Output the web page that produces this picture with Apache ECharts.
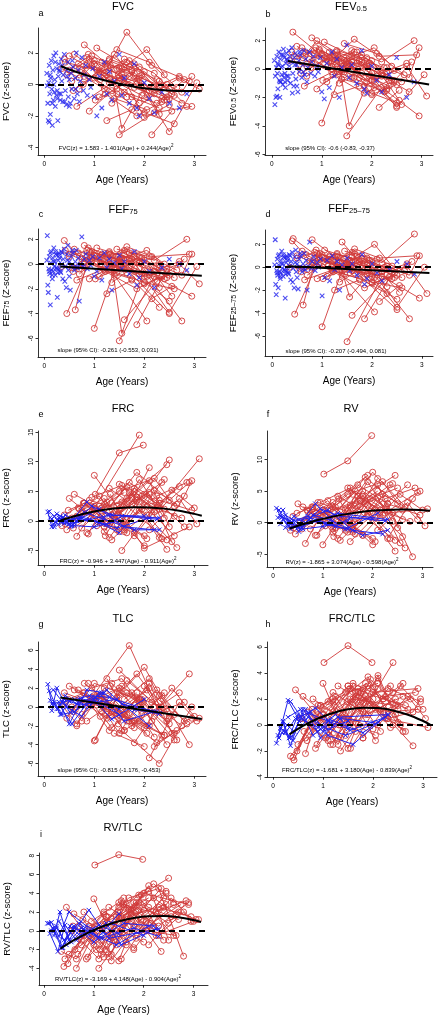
<!DOCTYPE html>
<html><head><meta charset="utf-8">
<script src="https://cdn.jsdelivr.net/npm/echarts@6/dist/echarts.min.js"></script>
<style>html,body{margin:0;padding:0;background:#fff}#c{width:439px;height:1017px}</style>
</head><body><div id="c"></div>
<script>
// ---------- tick labels ----------
const xTicks = [0, 1, 2, 3];

// ---------- spirometry (panels a-d): visit ages of each red subject ----------
const spiroAges = [
[0.42,1.05,1.55,2.05],[0.45,0.95,1.5],[0.5,1.2,1.75,2.3],[0.55,1.0,1.45,2.5],[0.6,1.3,1.9],
[0.62,0.9,1.6,2.2,2.7],[0.7,1.1,1.65],[0.75,1.45,2.0,2.6],[0.8,1.25,1.8],[0.85,1.6,2.35],
[0.9,1.35,1.95,2.45],[0.95,1.5,2.1],[1.0,1.4,1.85,2.75],[1.05,1.7,2.25],[1.1,1.55,2.0,2.5],
[1.15,1.8,2.4],[1.2,1.65,2.15,2.9],[1.25,1.75],[1.3,2.0,2.55],[1.35,1.9,2.3],
[1.4,1.95],[1.45,2.1,2.65],[1.5,2.2,2.95],[1.55,2.05,2.4],[1.6,2.25,2.8],
[1.7,2.3],[1.75,2.5,3.05],[1.85,2.45],[1.9,2.6],[2.0,2.7,3.1],
[0.5,0.85,1.3],[0.58,1.15,1.7],[0.68,1.4,2.05],[0.4,0.8,1.2,1.6],[0.78,1.3,1.75,2.2],
[0.88,1.25,1.65],[1.02,1.45,1.9],[1.12,1.6,2.2,2.85],[1.22,1.85,2.35],[1.32,1.55,2.0],
[1.48,1.8,2.45],[0.35,0.7,1.0],[2.15,2.55],[2.3,2.75,2.95],[0.65,1.5,2.5]];

const fvcRed = [
[1.4,0.9,0.3,-0.5],[0.6,1.2,0.2],[1.8,0.5,-0.8,-1.5],[0.2,1.5,1.0,-0.3],[1.9,0.3,-1.2],
[1.0,1.6,0.4,-0.2,0.5],[-0.3,0.8,1.4],[0.9,-0.6,-1.8,-2.5],[2.5,1.3,0.7],[1.2,0.1,-0.9],
[-1.7,-0.4,0.6,-0.8],[1.8,1.0,-0.4],[0.4,1.9,0.2,-1.2],[2.3,1.1,0.3],[-0.8,0.6,-2.1,-1.3],
[1.4,-0.2,-1.0],[0.7,3.3,1.2,0.2],[-2.3,-1.6],[1.6,0.8,-0.6],[-1.2,0.4,-1.9],
[0.2,-0.7],[2.2,1.4,-0.2],[-3.2,-1.8,-1.4],[1.0,2.2,0.6],[-0.5,-1.2,0.3],
[1.5,-0.1],[0.8,-3.0,0.1],[-1.5,0.0],[0.5,-0.7],[-0.9,0.4,-0.3],
[0.9,1.7,0.1],[-0.4,1.0,0.5],[1.3,-0.9,-1.6],[1.6,0.5,-0.3,1.1],[0.0,1.5,0.9,-0.6],
[1.9,0.6,-0.8],[-1.0,-0.3,1.1],[0.3,1.6,0.7,-1.4],[-0.6,-2.0,-1.1],[1.2,-2.8,-0.2],
[0.6,1.3,-1.0],[1.0,0.4,1.3],[-3.2,-1.7],[0.2,-0.5,0.5],[-1.4,0.4,-0.9]];

const fev05Red = [
[2.6,0.8,0.2,-0.8],[0.9,1.4,0.3],[1.6,0.2,-0.6,-1.4],[0.3,1.1,0.6,-2.6],[1.5,0.4,-0.9],
[0.8,2.0,0.5,-0.3,0.4],[-0.5,0.7,1.2],[0.7,-0.4,-1.7,-2.5],[2.2,1.0,0.5],[1.0,0.0,-1.2],
[-1.4,-0.2,0.4,-0.9],[1.3,0.6,-0.5],[-3.8,-0.2,0.3,-1.6],[1.9,0.8,0.1],[-0.9,0.4,-1.8,-1.1],
[1.2,-0.3,-0.8],[0.6,2.1,0.9,1.0],[-1.8,-1.2],[1.3,0.6,-2.2],[-1.0,0.2,-1.5],
[0.4,-0.5],[1.8,1.1,-0.4],[-4.7,-1.3,-3.3],[0.8,1.5,0.2],[-0.6,-1.6,0.5],
[1.2,-0.2],[0.6,-2.7,-0.4],[-1.2,-0.1],[0.3,-0.9],[-0.8,0.2,-1.9],
[0.7,1.3,0.0],[-0.3,0.8,0.4],[1.1,-0.7,-1.3],[1.2,0.4,-0.2,0.9],[0.1,1.2,0.6,-0.5],
[1.5,0.5,-0.6],[-0.8,-0.2,0.8],[0.2,1.3,0.5,2.0],[-0.4,-1.7,-0.8],[1.0,-4.0,-0.3],
[0.5,1.0,-0.8],[0.6,0.2,1.0],[-2.7,-1.5],[0.1,-0.6,1.5],[-1.2,0.3,-2.4]];

const fef75Red = [
[1.1,0.2,-0.4,-1.0],[-4.0,0.6,-0.2],[0.8,-0.5,-1.2,-3.5],[-0.3,0.9,0.4,-4.0],[1.2,0.0,-0.8],
[-3.7,1.0,0.3,-0.6,0.2],[-0.8,0.5,1.0],[0.4,-0.7,-1.5,-2.0],[1.5,0.7,-0.3],[0.6,-0.4,-1.0],
[-1.2,-0.2,0.5,-0.7],[1.0,0.3,-0.9],[-5.2,-0.5,0.2,-4.6],[1.3,0.5,-0.2],[-1.0,0.4,-1.6,-0.9],
[0.8,-0.6,-1.2],[0.2,1.4,0.6,0.8],[-2.4,-1.3],[0.9,0.3,-2.6],[-1.5,0.1,-1.9],
[0.3,-0.8],[1.2,0.6,-0.5],[-6.2,-1.0,-2.6],[0.5,1.1,0.0],[-4.5,-1.4,0.4],
[0.9,-0.3],[0.4,-3.9,-0.2],[-4.9,-0.4],[0.1,-1.1],[-1.0,0.0,-1.6],
[0.6,1.1,-0.2],[-0.6,0.7,0.2],[0.9,-0.9,-4.6],[1.9,0.2,-0.4,0.7],[-0.2,1.0,0.4,-0.6],
[1.3,0.3,-0.7],[-1.2,-0.4,0.6],[0.0,1.1,0.3,2.0],[-0.6,-2.0,-1.0],[0.8,-5.6,-0.5],
[0.3,0.8,-1.1],[-0.2,-0.4,0.7],[-2.8,-1.8],[-0.1,-0.9,0.8],[-1.3,0.1,-3.0]];

const fef2575Red = [
[2.5,0.5,-0.2,-0.9],[-4.1,0.8,0.0],[1.0,-0.3,-1.0,-2.3],[-0.1,1.1,0.5,-3.7],[1.4,0.2,-0.6],
[-3.3,1.2,0.4,-0.4,0.3],[-0.7,0.6,1.2],[0.5,-0.6,-1.3,-1.8],[2.4,0.9,-0.1],[0.8,-0.3,-0.9],
[-1.0,0.0,0.6,-0.5],[1.2,0.4,-0.7],[-5.2,-0.3,0.4,-4.5],[1.5,0.6,0.0],[-0.8,0.5,-1.4,-0.7],
[1.0,-0.4,-1.0],[0.3,1.6,0.8,1.0],[-2.0,-1.1],[1.1,0.4,-2.2],[-1.3,0.2,-1.7],
[2.2,-0.6],[1.4,0.7,-0.3],[-6.5,-0.8,-2.7],[0.6,2.0,0.1],[-4.2,-1.2,0.5],
[1.0,-0.1],[0.5,-3.5,0.0],[-4.5,-0.2],[0.2,-0.9],[-0.8,0.1,-2.3],
[0.8,1.3,0.0],[-0.4,0.9,0.3],[1.1,-0.7,-3.9],[2.3,0.4,-0.2,0.9],[0.0,1.2,0.5,-0.4],
[1.5,0.4,-0.5],[-1.0,-0.2,0.8],[0.1,1.3,0.4,2.9],[-0.4,-1.8,-0.8],[0.9,-2.6,-0.3],
[0.4,1.0,-0.9],[0.0,-0.2,0.9],[-3.0,-1.6],[0.1,-0.7,1.0],[-1.1,0.2,-2.8]];

// blue crosses (panels a-d)
const spiroBlueAges = [0.05,0.07,0.08,0.09,0.1,0.11,0.12,0.13,0.14,0.15,0.16,0.17,0.18,0.19,0.2,0.21,0.22,0.23,0.24,0.25,
0.26,0.27,0.28,0.29,0.3,0.31,0.32,0.34,0.35,0.37,0.38,0.4,0.42,0.44,0.45,0.47,0.48,0.5,0.52,0.54,
0.55,0.57,0.6,0.62,0.64,0.66,0.68,0.7,0.72,0.75,0.78,0.8,0.83,0.86,0.9,0.93,0.97,1.0,1.05,1.1,
1.15,1.2,1.25,1.3,1.35,1.4,1.5,1.55,1.6,1.7,1.8,1.85,1.9,2.0,2.1,2.2,2.35,2.5,2.7,2.85,
0.06,0.1,0.12,0.16,0.19,0.22,0.26,0.3,0.33,0.36,0.41,0.46,0.5,0.56,0.63];
const fvcBlue = [0.7,-1.2,-2.3,0.1,1.2,-0.6,-1.9,0.4,1.5,-0.3,-2.6,0.9,-1.0,1.8,-0.5,0.3,-1.4,2.0,-0.7,1.0,
-0.9,-2.3,0.5,1.3,-0.6,0.8,-1.0,1.6,0.2,-1.1,0.6,1.9,-0.4,-1.3,0.9,1.4,-0.8,0.3,-1.2,0.7,
-0.3,1.1,-0.9,0.4,2.0,-0.6,0.9,-1.1,0.2,1.7,-0.4,0.6,1.2,-0.7,0.3,-0.2,1.0,-0.8,-2.0,0.5,
-1.5,1.4,-0.6,0.8,-1.0,0.2,1.9,-0.7,0.4,-1.2,1.3,-1.5,-2.0,0.1,-0.9,-1.8,-0.5,-1.2,-1.5,-0.6,
-0.1,-2.4,0.6,-1.2,0.0,1.4,-0.4,0.9,-0.6,1.2,-1.1,0.5,-1.4,1.5,-0.3];
const fev05Blue = [0.6,-0.5,-2.0,0.1,0.9,-0.3,-1.4,0.3,1.2,-0.8,-2.0,0.7,-0.9,1.0,-0.4,0.2,-1.1,1.4,-0.6,0.8,
-0.9,-1.3,0.4,1.1,-0.5,0.6,-0.8,1.3,0.2,-1.0,0.5,1.5,-0.3,-1.2,0.8,1.1,-0.7,0.3,-1.6,0.6,
-0.2,1.0,-0.6,0.3,1.3,-0.4,0.7,-0.9,0.1,1.2,-0.3,0.5,0.9,-0.5,0.2,-0.2,0.8,-1.6,-2.1,0.4,
-1.3,1.2,-0.5,0.7,-2.0,0.1,1.7,-0.6,0.3,-1.0,1.3,-1.4,-1.7,0.2,-0.8,-1.6,-0.4,0.8,-2.0,-0.9,
-2.5,-1.9,0.4,-0.9,0.1,1.0,-0.3,0.7,-0.5,0.9,-1.7,0.3,-1.2,1.2,-0.2];
const fef75Blue = [0.3,-1.7,-2.3,-0.4,0.6,-0.8,-3.3,0.1,1.0,-0.5,-1.2,0.5,-0.6,1.3,-0.2,0.2,-0.9,0.8,-0.3,0.7,
-2.7,-0.7,0.3,0.9,-0.4,0.5,-0.6,1.0,0.0,-1.2,0.4,1.2,-0.2,-1.9,0.8,1.5,-0.5,0.2,-2.1,0.6,
-0.1,0.9,-0.5,0.2,1.1,-0.3,0.5,-3.0,0.0,2.2,-0.2,0.4,0.8,-0.4,0.3,-0.1,0.6,-1.0,-0.6,0.5,
-1.3,0.9,-0.3,0.4,-2.1,0.1,0.7,-0.4,0.2,-0.8,1.0,-1.7,-1.1,0.2,-0.6,-1.9,-0.3,0.4,0.0,-0.5,
2.3,-0.6,0.9,-0.9,0.2,1.0,-0.4,0.7,-0.7,0.9,-1.4,0.3,-1.0,1.1,-0.2];
const fef2575Blue = [0.2,-1.5,-2.4,-0.3,0.7,-0.7,-1.8,0.2,1.1,-0.4,-1.0,0.6,-0.5,1.4,-0.1,0.3,-0.8,0.9,-0.2,0.8,
-2.7,-0.6,0.4,1.0,-0.3,0.6,-0.5,1.1,0.1,-1.1,0.5,1.3,-0.1,-1.8,0.9,1.5,-0.4,0.3,-1.9,0.7,
0.0,1.0,-0.4,0.3,1.2,-0.2,0.6,-2.0,0.1,2.2,-0.1,0.5,0.9,-0.3,0.4,0.0,0.7,-2.5,-0.9,0.6,
-1.2,1.0,-0.2,0.5,-2.0,0.2,0.8,-0.3,0.3,-0.7,1.1,-1.5,-1.0,0.3,-0.5,-1.2,-0.2,0.5,0.3,-0.6,
2.4,-0.5,1.0,-0.8,0.3,1.1,-0.3,0.8,-0.6,1.0,-1.3,0.4,-0.9,1.2,-0.1];

// ---------- plethysmography (panels e-i) ----------
const plethAges = [
[0.4,0.9,1.5,2.1],[0.45,1.0,1.9],[0.5,1.2,1.8,2.4],[0.55,1.1,1.6,2.7],[0.6,1.35,2.0],
[0.65,0.95,1.7,2.3,2.8],[0.7,1.25,1.85],[0.75,1.5,2.2,2.6],[0.8,1.4,2.05],[0.85,1.65,2.45],
[0.9,1.3,1.95,2.5],[0.95,1.55,2.15],[1.0,1.45,2.0,2.9],[1.05,1.75,2.35],[1.1,1.6,2.1,2.55],
[1.15,1.85,2.5],[1.2,1.7,2.25,3.1],[1.25,1.8],[1.3,2.05,2.65],[1.35,1.95,2.4],
[1.4,2.0],[1.5,2.15,2.75],[1.55,2.3,2.95],[1.6,2.1,2.5],[1.65,2.25,2.85],
[1.75,2.35],[1.8,2.55,3.0],[1.9,2.45],[2.0,2.6],[2.1,2.7,3.05],
[0.48,0.8,1.25],[0.58,1.15,1.75],[0.68,1.45,2.1],[0.42,0.75,1.2,1.65],[0.78,1.35,1.8,2.2],
[0.88,1.2,1.6],[1.02,1.5,1.9],[1.12,1.65,2.3,2.9],[1.22,1.9,2.4],[1.32,1.6,2.05],
[1.48,1.85,2.6],[0.35,0.65,1.0],[2.2,2.65],[2.3,2.8,2.95],[0.62,1.55,2.45],[1.02,1.5,1.98]];

const frcRed = [
[1.0,3.5,2.0,4.8],[-1.5,2.2,14.5],[3.8,-1.0,5.5,2.0],[0.5,4.2,-1.8,5.8],[4.5,1.0,-2.5],
[-2.6,1.5,6.5,3.0,-1.0],[2.0,-0.5,3.5],[-1.2,5.0,7.2,2.5],[3.0,0.5,-3.0],[-2.0,3.8,9.5],
[1.5,-2.8,4.2,10.3],[4.0,6.0,1.0],[7.7,2.5,-4.6,-1.0],[-0.8,2.8,6.5],[2.5,-1.5,4.5,-3.5],
[0.8,8.2,3.5],[-1.8,4.8,1.8,10.5],[3.2,-2.0],[5.5,1.0,-4.5],[-3.2,2.0,7.0],
[1.2,-4.2],[6.2,2.5,0.5],[-5.0,3.5,1.8],[2.8,6.8,-1.0],[0.2,4.2,6.5],
[3.8,-3.0],[-2.5,5.2,2.2],[1.8,-4.8],[4.5,0.8],[-1.5,3.8,-0.5],
[1.8,3.0,0.0],[-1.2,2.2,4.0],[2.2,-1.5,9.0],[-0.5,1.8,3.8,-2.0],[3.0,-0.8,5.0,1.5],
[-2.2,2.8,4.8],[2.0,-1.8,3.2],[0.5,5.8,2.0,6.5],[-2.5,7.0,0.5],[4.5,-0.2,2.5],
[1.0,4.0,-2.5],[-0.8,0.8,2.5],[5.2,2.8],[-2.8,4.2,6.8],[0.5,3.2,-3.2],[4.5,11.5,12.8]];

const rvRed = [
[1.0,3.2,1.8,5.0],[-1.8,2.0,7.5],[3.0,-1.0,5.0,1.5],[0.2,3.5,-1.5,6.0],[2.5,0.8,-2.5],
[-3.3,1.2,6.0,3.0,-5.4],[1.8,-0.8,3.0],[-1.0,4.5,6.5,2.0],[2.2,0.3,-3.0],[-2.0,3.5,7.5],
[1.2,-2.5,3.8,5.5],[3.2,5.5,0.8],[-3.5,2.0,8.0,0.5],[-0.5,2.5,6.0],[2.0,-1.2,4.0,-3.2],
[0.5,7.2,3.0],[-1.5,4.2,1.5,2.2],[2.5,-2.0],[4.2,0.8,-4.0],[-2.8,1.8,6.2],
[1.0,-3.5],[5.5,2.0,0.2],[-3.0,3.0,1.2],[2.2,6.0,-0.8],[0.0,3.8,5.5],
[3.5,-2.5],[-2.0,4.5,2.0],[1.5,-4.5],[4.0,0.5],[-1.2,3.2,-0.5],
[1.5,2.5,-0.3],[-1.0,2.0,3.5],[2.0,-1.2,7.0],[-0.8,1.5,3.2,-1.8],[2.5,-0.5,4.2,1.2],
[-2.0,2.5,4.5],[1.8,-1.5,2.8],[0.3,5.0,1.8,4.8],[-2.2,6.5,0.2],[3.8,-0.2,2.2],
[0.8,3.5,-2.2],[-1.2,0.5,2.0],[4.5,2.5],[-2.5,3.8,5.0],[0.3,2.8,-2.8],[7.7,9.8,13.8]];

const tlcRed = [
[1.5,0.5,-0.8,-2.0],[-1.2,2.5,0.8],[2.2,0.3,-1.5,-3.0],[0.0,1.2,-2.5,1.5],[1.8,-0.5,-2.2],
[-2.0,1.0,6.5,-0.5,0.5],[0.8,-1.2,1.5],[-0.8,2.0,-1.0,-3.5],[2.5,0.0,-2.8],[-1.5,1.5,-0.2],
[0.5,-2.5,0.8,-1.8],[2.0,3.0,-1.5],[-3.6,1.0,4.2,-4.0],[0.2,-2.0,1.2],[1.2,-0.8,2.5,-2.8],
[-0.5,3.5,-1.2],[0.8,-1.5,-3.8,-1.2],[3.0,-2.2],[-1.0,1.8,-3.5],[2.5,-0.8,1.5],
[-2.8,-4.2],[3.9,0.5,-2.0],[-2.5,-6.0,0.0],[0.8,3.0,-1.0],[-1.5,1.8,-1.8],
[1.5,-3.0],[-3.8,2.0,-1.0],[0.8,-4.0],[2.2,-0.8],[-5.4,0.5,-1.5],
[0.8,1.5,-0.8],[-0.5,1.2,-1.5],[1.8,-1.0,2.0],[0.5,-1.5,2.0,-0.8],[1.5,-2.2,0.2,-3.2],
[2.5,0.5,-2.5],[1.0,-2.8,0.5],[-1.0,2.8,0.0,3.5],[0.5,-1.5,-3.0],[2.2,0.0,-2.0],
[-1.8,1.0,-2.8],[0.2,-1.8,1.2],[-4.2,-2.5],[1.2,-1.5,-1.2],[-0.3,2.2,-1.5],[-3.5,1.5,0.5]];

const frcTlcRed = [
[-2.5,1.5,0.5,2.8],[2.7,0.2,3.0],[-1.5,2.5,1.0,4.8],[0.5,-1.2,3.2,1.2],[2.2,0.0,2.0],
[-2.2,1.5,2.8,0.5,-1.6],[1.0,-1.0,2.2],[-0.5,3.0,2.0,3.2],[2.0,0.5,-0.8],[-1.8,2.2,0.8],
[0.8,-1.5,3.5,1.5],[1.5,2.8,-0.5],[3.2,-0.8,2.5,2.8],[-1.0,1.8,3.0],[1.8,0.2,3.8,0.0],
[0.0,3.2,1.2],[-1.5,2.5,0.5,-0.2],[2.2,-1.0],[3.0,1.2,-0.5],[-2.0,1.5,2.5],
[0.8,-0.3],[3.0,1.0,2.0],[-1.8,2.8,1.8],[1.5,3.6,0.2],[0.2,2.2,2.5],
[2.5,-0.2],[-1.0,3.0,1.2],[0.8,2.0],[2.8,-0.5],[0.0,2.2,0.5],
[-2.0,0.5,1.8],[0.5,-1.5,1.5],[-1.2,2.5,3.2],[-2.7,0.2,2.0,-0.5],[1.2,-1.0,2.8,1.0],
[-1.5,1.0,3.0],[0.8,-1.8,2.0],[-0.8,2.5,1.0,1.2],[1.5,3.7,0.0],[0.0,2.0,-1.2],
[1.8,0.8,2.2],[-2.4,-1.0,0.8],[2.0,1.5],[0.5,1.0,2.0],[-0.5,2.0,1.5],[4.8,6.1,4.8]];

const rvTlcRed = [
[-3.8,0.5,1.5,4.2],[2.5,-1.5,3.0],[-2.5,2.0,0.5,3.5],[0.0,-3.0,2.8,1.2],[1.8,-0.5,2.2],
[-4.0,-0.8,3.5,4.5,-2.7],[0.5,-2.0,2.0],[-1.5,2.5,5.0,3.0],[2.0,-1.0,1.0],[-3.0,1.5,2.8],
[-0.5,-2.8,3.8,5.6],[1.0,3.2,0.0],[3.4,-1.5,4.0,2.8],[-2.0,1.0,4.5],[-4.0,-0.5,2.5,1.5],
[-1.0,3.0,0.8],[-2.8,2.2,-0.5,1.2],[1.5,-1.8],[2.5,0.0,-0.5],[-3.2,1.2,2.5],
[0.5,-1.2],[3.0,0.8,2.8],[-3.0,2.5,1.5],[0.8,4.8,-1.0],[-1.2,2.0,3.2],
[2.2,-2.2],[-2.0,3.5,1.0],[0.0,4.0],[3.0,-0.5],[-1.5,2.0,1.2],
[-3.5,-0.5,1.5],[0.5,-2.5,1.8],[-2.5,1.5,3.5],[-3.0,-1.0,1.8,-1.5],[1.2,-2.5,3.0,0.5],
[-2.8,0.5,3.5],[-0.5,-3.2,2.2],[-2.0,2.8,0.5,3.0],[1.0,3.8,-1.0],[-1.2,2.5,0.0],
[2.0,-0.8,2.8],[-2.2,-3.0,0.2],[3.5,1.8],[-0.5,2.0,1.0],[-2.0,1.5,4.2],[7.0,8.1,7.6]];

// blue subjects (panels e-i), connected
const plethBlueAges = [
[0.07,0.15,0.3,0.5,0.85,1.2],[0.1,0.2,0.35,0.6,1.0,1.5],[0.15,0.25,0.45,0.75,1.1,1.6,2.2],
[0.2,0.32,0.5,0.9,1.3,2.3],[0.25,0.4,0.7,1.05,1.45,2.1],[0.3,0.55,0.8,1.15,1.8,2.3],
[0.12,0.28,0.42,0.65,0.95,1.35,2.0],[0.35,0.6,0.9,1.25,1.55,2.25],[0.18,0.38,0.52,0.72,1.1,1.5]];
const frcBlue = [[1.5,-1.0,0.5,-0.5,3.2,0.5],[1.6,0.8,-0.3,-0.8,-1.0,0.0],[0.3,1.2,0.2,0.5,2.0,-1.0,-1.5],
[-1.0,0.8,-0.5,0.2,1.0,0.5],[0.2,-0.4,0.8,-0.2,-1.2,0.5],[0.5,-0.8,1.5,0.4,-1.5,-1.5],
[0.6,-0.6,1.0,0.0,2.5,1.0,0.8],[0.1,-0.3,0.3,-0.6,0.8,0.3],[-0.5,0.6,-1.0,0.4,-0.3,-2.0]];
const rvBlue = [[2.3,1.0,0.5,-0.5,3.0,0.3],[0.8,2.0,-0.2,-1.0,-0.6,0.2],[-0.2,1.2,0.2,0.8,2.0,-1.2,-1.8],
[0.5,-0.5,-0.8,0.3,1.5,0.5],[-0.8,0.3,1.0,-0.2,-1.0,1.5],[0.2,-1.0,1.2,0.4,-2.0,-1.2],
[2.0,-0.3,1.0,0.0,2.2,1.0,0.6],[-1.0,-0.3,0.5,-0.6,0.8,0.3],[0.9,0.0,-1.4,0.4,-0.2,-1.0]];
const tlcBlue = [[2.4,0.3,0.5,-1.8,1.8,1.5],[1.7,0.5,-0.8,-0.5,1.0,-0.2],[-0.4,2.0,0.0,-1.0,1.5,-1.5,-0.5],
[0.3,-0.8,0.6,1.2,1.0,-0.7],[-0.2,0.8,0.2,0.5,0.8,-2.0],[0.2,-1.8,0.0,1.5,-0.3,-0.7],
[0.7,-0.2,1.2,0.3,1.0,-1.3,0.8],[0.5,0.8,0.0,1.8,0.3,-0.5],[1.8,0.4,-0.6,0.9,0.4,-0.8]];
const frcTlcBlue = [[-1.4,-0.3,1.9,0.5,1.3,0.0],[-0.8,0.2,-1.6,1.2,-0.5,0.3],[-0.2,-0.6,0.5,1.0,-0.8,-1.5,0.5],
[0.3,-1.0,0.8,-0.5,0.6,0.8],[-0.5,-1.2,0.6,-0.2,-0.8,0.2],[0.6,1.2,-0.8,0.4,-0.6,0.8],
[-1.0,0.0,-0.5,1.2,-1.0,0.5,0.2],[1.8,0.4,-0.2,0.8,-0.4,0.6],[-0.6,-0.9,0.3,0.9,0.3,-0.3]];
const rvTlcBlue = [[0.8,0.9,-0.6,2.0,0.5,-0.2],[0.8,0.0,-1.8,0.5,-1.2,1.8],[0.0,0.5,-1.5,0.3,-0.8,0.8,0.5],
[-0.5,2.0,-1.0,2.2,-0.8,0.2],[0.3,-1.0,0.8,-0.5,-1.5,0.5],[1.0,-1.2,0.2,-0.8,0.3,-0.6],
[-0.3,-2.2,0.6,-1.0,0.0,0.8,-0.5],[-1.8,0.3,-0.4,0.8,-1.5,0.2],[0.3,-1.8,0.5,-0.5,0.6,-0.3]];

// ---------- fitted curves ----------
const fitAgesQuad = [0.33,0.6,0.9,1.2,1.5,1.8,2.1,2.4,2.7,3.0,3.15];
const fvcFit    = [1.147,0.830,0.520,0.253,0.030,-0.148,-0.283,-0.374,-0.421,-0.424,-0.409];
const frcFit    = [0.092,0.794,1.418,1.878,2.175,2.307,2.275,2.080,1.720,1.196,0.873];
const rvFit     = [-0.916,-0.236,0.418,0.963,1.400,1.730,1.953,2.069,2.076,1.975,1.884];
const frcTlcFit = [-0.723,-0.075,0.501,0.927,1.201,1.325,1.297,1.118,0.789,0.308,0.011];
const rvTlcFit  = [-1.898,-1.005,-0.168,0.507,1.019,1.368,1.555,1.579,1.441,1.139,0.927];
const fitAgesLin = [0.32,3.15];
const fev05Fit   = [0.57,-1.08];
const fef75Fit   = [-0.20,-0.94];
const fef2575Fit = [0.08,-0.50];
const tlcFit     = [0.99,-1.29];

// ---------- layout ----------
const FONT = '"Liberation Sans", Arial, Helvetica, sans-serif';
const RED = '#d03a3a', BLUE = '#2222ee';
const CROSS = 'path://M0,0L10,10M10,0L0,10';

const panels = [
 {letter:'a', title:'FVC', yname:'FVC (z-score)', rect:[38,28,168,127], x:[-0.126,3.234], y:[-4.48,3.57], yt:[-4,-2,0,2],
  ages:spiroAges, red:fvcRed, bAges:spiroBlueAges, blue:fvcBlue, bLines:false, fx:fitAgesQuad, fy:fvcFit, smooth:true,
  eq:'FVC(z) = 1.583 - 1.401(Age) + 0.244(Age){sup|2}', eqPos:[116,148], tPos:[123,7], lPos:[41,14]},
 {letter:'b', title:'FEV{sub|0.5}', yname:'FEV{sub|0.5} (Z-score)', rect:[265,28,168,127], x:[-0.138,3.228], y:[-6.05,2.89], yt:[-6,-4,-2,0,2],
  ages:spiroAges, red:fev05Red, bAges:spiroBlueAges, blue:fev05Blue, bLines:false, fx:fitAgesLin, fy:fev05Fit, smooth:false,
  eq:'slope (95% CI): -0.6 (-0.83, -0.37)', eqPos:[330,148], tPos:[351,7], lPos:[268,15]},
 {letter:'c', title:'FEF{sub|75}', yname:'FEF{sub|75} (Z-score)', rect:[38,229,168,128], x:[-0.126,3.234], y:[-7.51,2.83], yt:[-6,-4,-2,0,2],
  ages:spiroAges, red:fef75Red, bAges:spiroBlueAges, blue:fef75Blue, bLines:false, fx:fitAgesLin, fy:fef75Fit, smooth:false,
  eq:'slope (95% CI): -0.261 (-0.553, 0.031)', eqPos:[108,350], tPos:[123,210], lPos:[41,215]},
 {letter:'d', title:'FEF{sub|25\u201375}', yname:'FEF{sub|25\u201375} (Z-score)', rect:[265,230,168,126], x:[-0.145,3.222], y:[-7.75,3.25], yt:[-6,-4,-2,0,2],
  ages:spiroAges, red:fef2575Red, bAges:spiroBlueAges, blue:fef2575Blue, bLines:false, fx:fitAgesLin, fy:fef2575Fit, smooth:false,
  eq:'slope (95% CI): -0.207 (-0.494, 0.081)', eqPos:[336,351], tPos:[349,209], lPos:[268,215]},
 {letter:'e', title:'FRC', yname:'FRC (z-score)', rect:[38,431,170,134], x:[-0.126,3.274], y:[-7.44,15.19], yt:[-5,0,5,10,15],
  ages:plethAges, red:frcRed, bAges:plethBlueAges, blue:frcBlue, bLines:true, fx:fitAgesQuad, fy:frcFit, smooth:true,
  eq:'FRC(z) = -0.946 + 3.447(Age) - 0.911(Age){sup|2}', eqPos:[118,561], tPos:[123,409], lPos:[41,415]},
 {letter:'f', title:'RV', yname:'RV (z-score)', rect:[267,431,166,136], x:[-0.12,3.21], y:[-7.02,14.53], yt:[-5,0,5,10],
  ages:plethAges, red:rvRed, bAges:plethBlueAges, blue:rvBlue, bLines:true, fx:fitAgesQuad, fy:rvFit, smooth:true,
  eq:'RV(z) = -1.865 + 3.074(Age) - 0.598(Age){sup|2}', eqPos:[342,562], tPos:[351,409], lPos:[268,415]},
 {letter:'g', title:'TLC', yname:'TLC (z-score)', rect:[38,642,168,134], x:[-0.126,3.234], y:[-7.32,6.88], yt:[-6,-4,-2,0,2,4,6],
  ages:plethAges, red:tlcRed, bAges:plethBlueAges, blue:tlcBlue, bLines:true, fx:fitAgesLin, fy:tlcFit, smooth:false,
  eq:'slope (95% CI): -0.815 (-1.176, -0.453)', eqPos:[109,770], tPos:[123,619], lPos:[41,625]},
 {letter:'h', title:'FRC/TLC', yname:'FRC/TLC (z-score)', rect:[267,642,170,135], x:[-0.12,3.28], y:[-4,6.38], yt:[-4,-2,0,2,4,6],
  ages:plethAges, red:frcTlcRed, bAges:plethBlueAges, blue:frcTlcBlue, bLines:true, fx:fitAgesQuad, fy:frcTlcFit, smooth:true,
  eq:'FRC/TLC(z) = -1.681 + 3.180(Age) - 0.839(Age){sup|2}', eqPos:[347,770], tPos:[352,619], lPos:[268,625]},
 {letter:'i', title:'RV/TLC', yname:'RV/TLC (z-score)', rect:[39,853,169,132], x:[-0.1,3.29], y:[-5.77,8.28], yt:[-4,-2,0,2,4,6,8],
  ages:plethAges, red:rvTlcRed, bAges:plethBlueAges, blue:rvTlcBlue, bLines:true, fx:fitAgesQuad, fy:rvTlcFit, smooth:true,
  eq:'RV/TLC(z) = -3.169 + 4.148(Age) - 0.904(Age){sup|2}', eqPos:[118,979], tPos:[123,828], lPos:[41,835]}
];

const richName = {
  sub: {fontSize: 7, fontFamily: FONT, color: '#000', verticalAlign: 'bottom', padding: [0,0,0,0]}
};
const grids = [], xAxes = [], yAxes = [], series = [], graphics = [];
panels.forEach((p, i) => {
  grids.push({left: p.rect[0], top: p.rect[1], width: p.rect[2], height: p.rect[3], containLabel: false, outerBoundsMode: 'none'});
  xAxes.push({type: 'value', gridIndex: i, min: p.x[0], max: p.x[1],
    name: 'Age (Years)', nameLocation: 'middle', nameGap: 20,
    nameTextStyle: {fontFamily: FONT, fontSize: 10, color: '#000'},
    axisLine: {show: true, onZero: false, lineStyle: {color: '#000', width: 0.8}},
    axisTick: {show: true, length: 2.7, customValues: xTicks, lineStyle: {color: '#000', width: 0.8}},
    axisLabel: {show: true, customValues: xTicks, fontFamily: FONT, fontSize: 6.5, color: '#000', margin: 6},
    splitLine: {show: false}});
  yAxes.push({type: 'value', gridIndex: i, min: p.y[0], max: p.y[1],
    name: p.yname, nameLocation: 'middle', nameGap: 27, nameRotate: 90,
    nameTextStyle: {fontFamily: FONT, fontSize: 9.5, color: '#000', rich: {sub: {fontSize: 7, fontFamily: FONT, color: '#000', verticalAlign: 'bottom'}}},
    axisLine: {show: true, onZero: false, lineStyle: {color: '#000', width: 0.8}},
    axisTick: {show: true, length: 2.5, customValues: p.yt, lineStyle: {color: '#000', width: 0.8}},
    axisLabel: {show: true, customValues: p.yt, rotate: 90, fontFamily: FONT, fontSize: 6.5, color: '#000', margin: 3},
    splitLine: {show: false}});

  // red subjects
  p.ages.forEach((ag, k) => {
    const z = p.red[k]; if (!z) return;
    const n = Math.min(ag.length, z.length), d = [];
    for (let j = 0; j < n; j++) d.push([ag[j], z[j]]);
    series.push({type: 'line', xAxisIndex: i, yAxisIndex: i, data: d, symbol: 'circle', symbolSize: 6, showSymbol: true,
      lineStyle: {color: RED, width: 0.9}, itemStyle: {color: 'rgba(0,0,0,0)', borderColor: RED, borderWidth: 0.9},
      silent: true, z: 2, animation: false});
  });
  // blue
  if (p.bLines) {
    p.bAges.forEach((ag, k) => {
      const z = p.blue[k]; if (!z) return;
      const n = Math.min(ag.length, z.length), d = [];
      for (let j = 0; j < n; j++) d.push([ag[j], z[j]]);
      series.push({type: 'line', xAxisIndex: i, yAxisIndex: i, data: d, symbol: CROSS, symbolSize: 4.5, showSymbol: true,
        lineStyle: {color: BLUE, width: 1}, itemStyle: {color: 'none', borderColor: BLUE, borderWidth: 1},
        silent: true, z: 3, animation: false});
    });
  } else {
    const n = Math.min(p.bAges.length, p.blue.length), d = [];
    for (let j = 0; j < n; j++) d.push([p.bAges[j], p.blue[j]]);
    series.push({type: 'scatter', xAxisIndex: i, yAxisIndex: i, data: d, symbol: CROSS, symbolSize: 4.5,
      itemStyle: {color: 'none', borderColor: BLUE, borderWidth: 1.1}, silent: true, z: 3, animation: false});
  }
  // fit + zero reference
  const fd = p.fx.map((a, j) => [a, p.fy[j]]);
  series.push({type: 'line', xAxisIndex: i, yAxisIndex: i, data: fd, smooth: p.smooth ? 0.35 : false, symbol: 'none',
    lineStyle: {color: '#000', width: 2}, silent: true, z: 5, animation: false,
    markLine: {silent: true, symbol: 'none', animation: false, label: {show: false},
      lineStyle: {color: '#000', width: 1.8, type: [6, 4]}, data: [{yAxis: 0}]}});

  // texts
  graphics.push({type: 'text', x: p.tPos[0], y: p.tPos[1], z: 10, style: {text: p.title, fontFamily: FONT, fontSize: 11, fill: '#000',
    align: 'center', verticalAlign: 'middle',
    rich: {sub: {fontSize: 7.5, fontFamily: FONT, fill: '#000', color: '#000', verticalAlign: 'bottom'}}}});
  graphics.push({type: 'text', x: p.lPos[0], y: p.lPos[1], z: 10, style: {text: p.letter, fontFamily: FONT, fontSize: 9, fill: '#000',
    align: 'center', verticalAlign: 'middle'}});
  graphics.push({type: 'text', x: p.eqPos[0], y: p.eqPos[1], z: 10, style: {text: p.eq, fontFamily: FONT, fontSize: 6, fill: '#000',
    align: 'center', verticalAlign: 'middle', lineHeight: 10,
    rich: {sup: {fontSize: 4.5, fontFamily: FONT, fill: '#000', color: '#000', verticalAlign: 'top', lineHeight: 5}}}});
});

const chart = echarts.init(document.getElementById('c'), null, {renderer: 'canvas'});
chart.setOption({animation: false, backgroundColor: '#fff', grid: grids, xAxis: xAxes, yAxis: yAxes, series: series, graphic: {elements: graphics}});
</script></body></html>
